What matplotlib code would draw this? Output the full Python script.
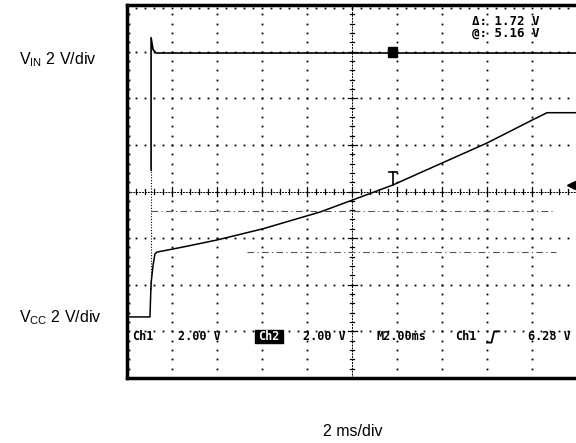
import numpy as np
import matplotlib.pyplot as plt
from matplotlib.patches import Rectangle

plt.rcParams['mathtext.fontset'] = 'custom'
plt.rcParams['mathtext.rm'] = 'Liberation Sans'

# screen: 10 div x 2 ms/div, 8 div vertical (2 V/div both channels)
# trace values: time in ms, level in divisions from bottom
vcc_t = [0.13, 1.02, 1.07, 1.16, 1.24, 1.33, 2.6, 4.0, 6.04, 8.58, 10.04,
         11.82, 13.02, 16.0, 18.04, 18.67, 19.96]
vcc_div = [1.31, 1.31, 2.04, 2.42, 2.66, 2.70, 2.82, 2.96, 3.20, 3.56, 3.82,
           4.14, 4.40, 5.04, 5.54, 5.69, 5.69]

vin_t = [1.07, 1.07, 1.16, 1.3, 20.0]
vin_div = [4.46, 7.30, 7.04, 6.97, 6.97]

# cursors (delta 1.72 V)
cursor_div = [3.58, 2.70]
cursor_t0 = [1.07, 5.33]
cursor_t1 = [18.9, 19.07]

bottom_labels = [(0.22, 'Ch1'), (2.27, '2.00 V'), (7.82, '2.00 V'),
                 (11.11, 'M2.00ms'), (14.58, 'Ch1'), (17.82, '6.28 V')]

fig = plt.figure(figsize=(5.76, 4.43), dpi=100)
ax = fig.add_axes([127 / 576, 65 / 443, 450 / 576, 373 / 443])
ax.set_xlim(0, 20)
ax.set_ylim(0, 8)
ax.set_xticks([])
ax.set_yticks([])
for s in ['left', 'top', 'bottom']:
    ax.spines[s].set_linewidth(2.5)
ax.spines['right'].set_visible(False)

# dotted graticule
minor_x = np.arange(0, 20.01, 0.4)
minor_y = np.arange(0, 8.01, 0.2)
dot = dict(marker='s', ls='none', ms=1.3, color='k', mew=0)
for k in range(1, 10):
    if k == 5:
        continue
    ax.plot(np.full_like(minor_y, k * 2), minor_y, **dot)
for k in range(1, 8):
    if k == 4:
        continue
    ax.plot(minor_x, np.full_like(minor_x, k), **dot)
# border ticks
ax.plot(minor_x, np.full_like(minor_x, 7.93), **dot)
ax.plot(np.full_like(minor_y, 0.07), minor_y, **dot)

# centre axes with ticks
ax.axvline(10, color='k', lw=0.7, ls=(0, (2, 1)))
ax.axhline(4, color='k', lw=0.7, ls=(0, (2, 1)))
for x in minor_x:
    h = 0.1 if abs(x / 2 - round(x / 2)) < 1e-6 else 0.05
    ax.plot([x, x], [4 - h, 4 + h], color='k', lw=0.9)
for y in minor_y:
    h = 0.2 if abs(y - round(y)) < 1e-6 else 0.1
    ax.plot([10 - h, 10 + h], [y, y], color='k', lw=0.9)

# cursors
for d, a, b in zip(cursor_div, cursor_t0, cursor_t1):
    ax.plot([a, b], [d, d], color='#555555', lw=0.8, ls=(0, (6, 3, 1, 3)))

# traces
ax.plot([1.07, 1.07], [1.9, 4.46], color='k', lw=0.8, ls=(0, (1, 1.5)))
ax.plot(vin_t, vin_div, color='k', lw=1.2)
ax.plot(vcc_t, vcc_div, color='k', lw=1.1)

# trigger markers
ax.add_patch(Rectangle((11.6, 6.88), 0.4, 0.22, color='k'))
ax.plot([11.64, 12.0], [4.42, 4.42], color='k', lw=1.2)
ax.plot([11.82, 11.82], [4.42, 4.14], color='k', lw=1.2)
ax.plot([19.75], [4.14], marker='<', ms=6, color='k', clip_on=False)

# readouts
mono = dict(family='DejaVu Sans Mono', fontsize=8.5, fontweight='bold',
            va='center', ha='left')
for x, s in bottom_labels:
    ax.text(x, 0.88, s, **mono)
ax.add_patch(Rectangle((5.69, 0.74), 1.24, 0.28, color='k'))
ax.text(6.31, 0.88, 'Ch2', color='white', fontweight='bold',
        family='DejaVu Sans Mono', fontsize=8.5, va='center', ha='center')
ax.plot([16.0, 16.2, 16.32, 16.55], [0.76, 0.76, 1.0, 1.0], color='k', lw=1.3)
ax.text(15.33, 7.52, '\u0394: 1.72 V\n@: 5.16 V', family='DejaVu Sans Mono',
        fontsize=9, fontweight='bold', va='center', ha='left',
        linespacing=0.95)

# outside labels
lab = dict(family='Liberation Sans', fontsize=11.5, va='center', ha='left')
fig.text(19 / 576, 1 - 60 / 443, r'V$_{\mathrm{IN}}$ 2 V/div', **lab)
fig.text(19 / 576, 1 - 318 / 443, r'V$_{\mathrm{CC}}$ 2 V/div', **lab)
fig.text(353 / 576, 1 - 432 / 443, '2 ms/div', family='Liberation Sans',
         fontsize=11.5, va='center', ha='center')

fig.savefig('out.png', dpi=100)
